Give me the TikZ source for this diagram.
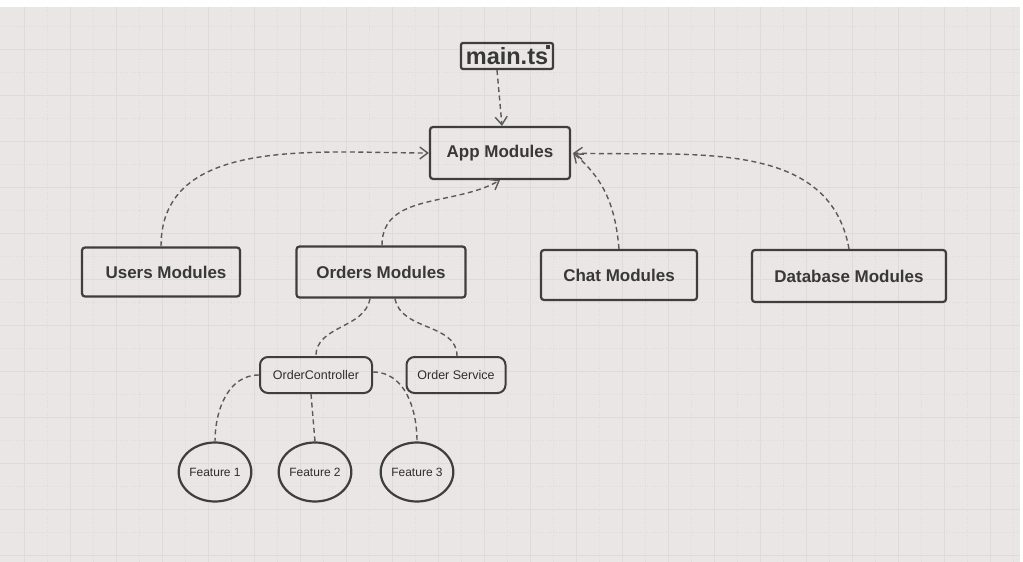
\documentclass[tikz,border=0pt]{standalone}
\usepackage{fontspec}
\setmainfont{Liberation Sans}
\usetikzlibrary{arrows.meta,positioning,shapes.geometric}
\definecolor{paper}{HTML}{EAE6E6}
\definecolor{gridline}{HTML}{E0DBDB}
\definecolor{boxline}{HTML}{3E3E3E}
\definecolor{linkgray}{HTML}{5A5A5A}
\definecolor{ink}{HTML}{383838}

\begin{document}
\begin{tikzpicture}[x=1pt,y=-1pt,
  modbox/.style={draw=boxline,line width=2.2pt,rounded corners=3pt,inner sep=0pt,
    minimum height=50pt,font=\bfseries\fontsize{17}{20}\selectfont,text=ink},
  subbox/.style={draw=boxline,line width=2pt,rounded corners=8pt,inner sep=0pt,
    minimum height=36pt,font=\fontsize{12.5}{15}\selectfont,text=ink!80!black},
  feat/.style={draw=boxline,line width=2.2pt,ellipse,inner sep=0pt,
    minimum width=70pt,minimum height=59pt,font=\fontsize{12}{14}\selectfont,text=ink!80!black},
  link/.style={draw=linkgray,line width=1.4pt,dash pattern=on 5pt off 3.5pt},
  uses/.style={link,-{Straight Barb[length=8pt,width=12pt]}}]
\useasboundingbox (0,0) rectangle (1023,562);
% paper and grid
\fill[white] (0,0) rectangle (1023,562);
\fill[paper] (0,7) rectangle (1020,562);
\foreach \gx in {24,70,...,1020} \draw[gridline,line width=0.7pt] (\gx,7) -- (\gx,562);
\foreach \gy in {49,95,...,562} \draw[gridline,line width=0.7pt] (0,\gy) -- (1020,\gy);
\foreach \gx in {47,93,...,1020} \draw[gridline,line width=0.6pt,dotted] (\gx,7) -- (\gx,562);
\foreach \gy in {26,72,...,562} \draw[gridline,line width=0.6pt,dotted] (0,\gy) -- (1020,\gy);

% modules
\node[modbox,rounded corners=2pt,minimum width=92pt,minimum height=26pt,
  font=\bfseries\fontsize{23.5}{26}\selectfont] (main) at (507,56) {main.ts};
\fill[boxline] ([xshift=-8pt,yshift=-3pt]main.north east) rectangle ++(4,4);
\node[modbox,minimum width=140pt,minimum height=52pt] (app) at (500,153) {App Modules};
\node[modbox,minimum width=158pt,minimum height=49pt] (users) at (161,272) {\hspace{10pt}Users Modules};
\node[modbox,minimum width=169pt,minimum height=51pt] (orders) at (381,272) {Orders Modules};
\node[modbox,minimum width=156pt,minimum height=50pt] (chat) at (619,275) {Chat Modules};
\node[modbox,minimum width=194pt,minimum height=52pt] (db) at (849,276) {Database Modules};

% orders parts
\node[subbox,minimum width=112pt] (ctrl) at (316,375) {OrderController};
\node[subbox,minimum width=99pt] (svc) at (456,375) {Order Service};
\node[feat] (f1) at (215,472) {Feature 1};
\node[feat] (f2) at (315,472) {Feature 2};
\node[feat] (f3) at (417,472) {Feature 3};

% imports
\draw[uses] ([xshift=-10pt]main.south) -- ([xshift=2pt]app.north);
\draw[uses] (users.north) to[out=90,in=180] (app.west);
\draw[uses] ([xshift=1pt]orders.north) to[out=90,in=-150] (app.south);
\draw[uses] (chat.north) to[out=95,in=-40] ([xshift=2pt]app.east);
\draw[uses] (db.north) to[out=100,in=-2] ([xshift=2pt]app.east);

% parts
\draw[link] ([xshift=-11pt]orders.south) to[out=-100,in=90] (ctrl.north);
\draw[link] ([xshift=14pt]orders.south) to[out=-80,in=90] ([xshift=1pt]svc.north);
\draw[link] (ctrl.west) to[out=180,in=90] (f1.north);
\draw[link] ([xshift=-5pt]ctrl.south) -- (f2.north);
\draw[link] ([yshift=3pt]ctrl.east) to[out=0,in=90] (f3.north);
\end{tikzpicture}
\end{document}
